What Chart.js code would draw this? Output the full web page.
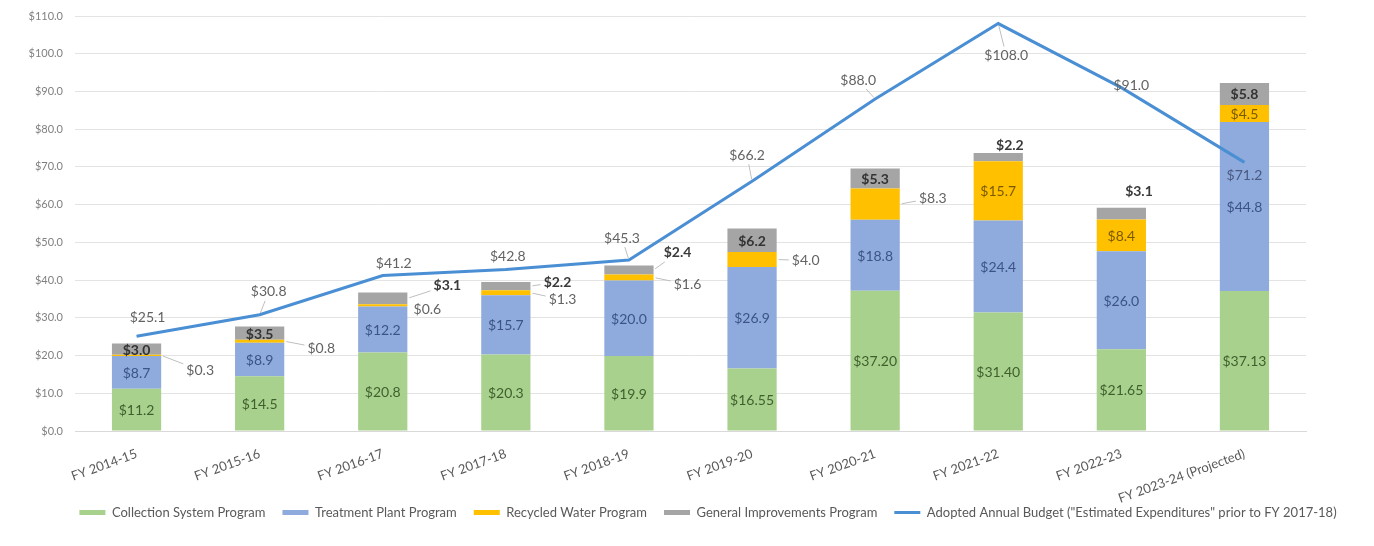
<!DOCTYPE html>
<html><head><meta charset="utf-8">
<script src="https://cdn.jsdelivr.net/npm/chart.js@4.4.0/dist/chart.umd.min.js"></script>
<style>html,body{margin:0;padding:0;background:#fff}#wrap{width:1374px;height:546px}</style>
</head><body><div id="wrap"><canvas id="c" width="1374" height="546"></canvas></div>
<script>
const categories = ['FY 2014-15','FY 2015-16','FY 2016-17','FY 2017-18','FY 2018-19','FY 2019-20','FY 2020-21','FY 2021-22','FY 2022-23','FY 2023-24 (Projected)'];
const collection = [11.2, 14.5, 20.8, 20.3, 19.9, 16.55, 37.20, 31.40, 21.65, 37.13];
const collectionDecimals = [1, 1, 1, 1, 1, 2, 2, 2, 2, 2];
const treatment = [8.7, 8.9, 12.2, 15.7, 20.0, 26.9, 18.8, 24.4, 26.0, 44.8];
const recycled = [0.3, 0.8, 0.6, 1.3, 1.6, 4.0, 8.3, 15.7, 8.4, 4.5];
const general = [3.0, 3.5, 3.1, 2.2, 2.4, 6.2, 5.3, 2.2, 3.1, 5.8];
const budget = [25.1, 30.8, 41.2, 42.8, 45.3, 66.2, 88.0, 108.0, 91.0, 71.2];
const seriesNames = ['Collection System Program','Treatment Plant Program','Recycled Water Program','General Improvements Program','Adopted Annual Budget ("Estimated Expenditures" prior to FY 2017-18)'];
const yTickMax = 110, yTickStep = 10;

const FONT = 'Lato, "Open Sans", "DejaVu Sans", sans-serif';
Chart.defaults.font.family = FONT;

// label placement (offsets in px) - styling only
const recycledOut = {0:[39,15],1:[37,7],2:[20,4],3:[32,7],4:[34,7],5:[29,1],6:[33,-6]};
const generalOut = {2:[40,-13],3:[27,-4],4:[24,-17],7:[-13,-12],8:[-7,-22]};
const generalLeader = {2:true,3:true,4:true};
const lineOff = [[11,-19],[9,-23],[11,-12],[2,-13],[-7,-22],[-5,-26],[-17,-19],[8,32],[10,-2],[0,13]];
const lineLeader = {1:true,4:true,5:true,6:true,7:true};
const LABEL_PX = 14;

function leader(ctx, ax, ay, lx, ly, w, h) {
  const dx = lx - ax, dy = ly - ay;
  const len = Math.hypot(dx, dy);
  if (len < 1) return;
  const tx = Math.abs(dx) > 0 ? (w/2 + 3) / Math.abs(dx) : Infinity;
  const ty = Math.abs(dy) > 0 ? (h/2 + 3) / Math.abs(dy) : Infinity;
  const t = Math.min(tx, ty);
  const ex = lx - dx * t, ey = ly - dy * t;
  const sx = ax + dx / len * 2, sy = ay + dy / len * 2;
  if (Math.hypot(ex - sx, ey - sy) < 4) return;
  ctx.save();
  ctx.strokeStyle = '#bfbfbf'; ctx.lineWidth = 1;
  ctx.beginPath(); ctx.moveTo(sx, sy); ctx.lineTo(ex, ey); ctx.stroke();
  ctx.restore();
}

const labelPlugin = {
  id: 'valueLabels',
  beforeDraw(chart) {
    // let tick labels overflow their axis boxes
    ['x', 'y'].forEach(id => { if (chart.scales[id]) chart.scales[id]._computeLabelArea = () => undefined; });
  },
  afterDatasetsDraw(chart) {
    const ctx = chart.ctx;
    ctx.save();
    ctx.textAlign = 'center';
    ctx.textBaseline = 'middle';
    const el = (di, j) => {
      const e = chart.getDatasetMeta(di).data[j];
      return {cx: e.x, top: e.y, bottom: e.base, right: e.x + e.width / 2, cy: (e.y + e.base) / 2};
    };
    const setFont = bold => { ctx.font = (bold ? 'bold ' : '') + LABEL_PX + 'px ' + FONT; };
    const txt = (s, x, y, color, bold) => { setFont(bold); ctx.fillStyle = color; ctx.fillText(s, x, y); };
    const measure = (s, bold) => { setFont(bold); return ctx.measureText(s).width; };
    for (let j = 0; j < categories.length; j++) {
      let b = el(0, j);
      txt('$' + collection[j].toFixed(collectionDecimals[j]), b.cx, b.cy + 1, '#3f5f2c', false);
      b = el(1, j);
      txt('$' + treatment[j].toFixed(1), b.cx, b.cy + 1, '#3b5485', false);
      b = el(2, j);
      let s = '$' + recycled[j].toFixed(1);
      if (recycledOut[j]) {
        const [dx, dy] = recycledOut[j];
        const lx = b.right + dx, ly = b.cy + dy;
        leader(ctx, b.right, b.cy, lx, ly, measure(s, false), 12);
        txt(s, lx, ly, '#636363', false);
      } else {
        txt(s, b.cx, b.cy + 1, '#7a5a00', false);
      }
      b = el(3, j);
      s = '$' + general[j].toFixed(1);
      if (generalOut[j]) {
        const [dx, dy] = generalOut[j];
        const lx = b.right + dx, ly = b.cy + dy;
        if (generalLeader[j]) leader(ctx, b.right, b.cy, lx, ly, measure(s, true), 12);
        txt(s, lx, ly, '#3a3a3a', true);
      } else {
        txt(s, b.cx, b.cy + 1, '#333333', true);
      }
    }
    const lm = chart.getDatasetMeta(4);
    for (let j = 0; j < budget.length; j++) {
      const p = lm.data[j];
      const [dx, dy] = lineOff[j];
      const s = '$' + budget[j].toFixed(1);
      const lx = p.x + dx, ly = p.y + dy;
      if (lineLeader[j]) leader(ctx, p.x, p.y, lx, ly, measure(s, false), 12);
      txt(s, lx, ly, j === 9 ? '#4a5a80' : '#636363', false);
    }
    ctx.restore();
  }
};

const barCommon = {type: 'bar', stack: 'bars', order: 1, borderWidth: 0, categoryPercentage: 0.8, barPercentage: 0.5};
new Chart(document.getElementById('c'), {
  data: {
    labels: categories,
    datasets: [
      Object.assign({label: seriesNames[0], data: collection, backgroundColor: '#A9D18E'}, barCommon),
      Object.assign({label: seriesNames[1], data: treatment, backgroundColor: '#8FAADC'}, barCommon),
      Object.assign({label: seriesNames[2], data: recycled, backgroundColor: '#FFC000'}, barCommon),
      Object.assign({label: seriesNames[3], data: general, backgroundColor: '#A5A5A5'}, barCommon),
      {type: 'line', label: seriesNames[4], data: budget, stack: 'line', order: 0, borderColor: '#4A8FD4', backgroundColor: '#4A8FD4', borderWidth: 3, pointRadius: 0, tension: 0, fill: false}
    ]
  },
  options: {
    responsive: false,
    animation: false,
    layout: {padding: {left: 42, right: 0, top: 16, bottom: 17}},
    scales: {
      x: {
        stacked: true,
        grid: {display: false},
        border: {color: '#d9d9d9'},
        ticks: {color: '#595959', font: {size: 13}, minRotation: 20, maxRotation: 20, autoSkip: false, padding: 7},
        afterFit(scale) { scale.height = 58; scale.paddingLeft = 0; scale.paddingRight = 0; }
      },
      y: {
        stacked: true,
        min: 0, max: yTickMax,
        grid: {color: '#e3e3e3', drawTicks: false},
        border: {display: false},
        ticks: {stepSize: yTickStep, color: '#808080', font: {size: 11}, padding: 12, callback: v => '$' + Number(v).toFixed(1)},
        afterFit(scale) { scale.width = 33; scale.paddingTop = 0; scale.paddingBottom = 0; }
      },
      yRightSpace: {
        position: 'right',
        display: true,
        grid: {display: false},
        border: {display: false},
        ticks: {display: false},
        afterFit(scale) { scale.width = 68; scale.paddingTop = 0; scale.paddingBottom = 0; }
      }
    },
    plugins: {
      tooltip: {enabled: false},
      legend: {
        position: 'bottom',
        labels: {
          color: '#595959',
          font: {size: 13},
          usePointStyle: true,
          pointStyleWidth: 26,
          boxHeight: 5,
          padding: 17,
          generateLabels(chart) {
            const items = Chart.defaults.plugins.legend.labels.generateLabels(chart);
            items.forEach(it => {
              const ds = chart.data.datasets[it.datasetIndex];
              it.pointStyle = ds.type === 'line' ? 'line' : 'rect';
            });
            return items.sort((a, b) => a.datasetIndex - b.datasetIndex);
          }
        }
      }
    }
  },
  plugins: [labelPlugin]
});
</script></body></html>
